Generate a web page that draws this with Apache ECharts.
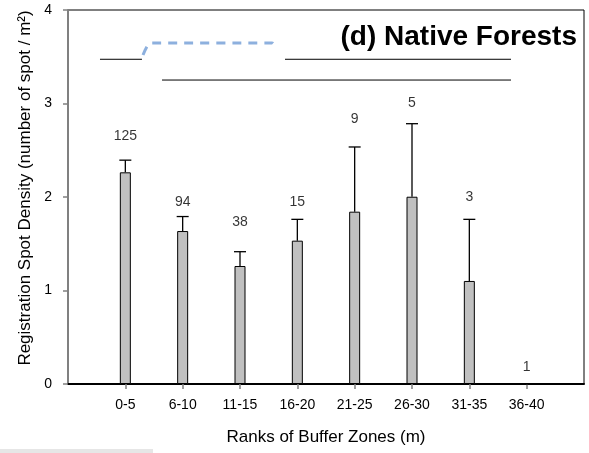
<!DOCTYPE html>
<html>
	<head>
		<meta charset="UTF-8">
		<title>Native Forests</title>
		<style>
			html, body { margin: 0; padding: 0; background: #fff; }
			#chart { width: 589px; height: 453px; }
		</style>
	</head>
	<body>
		<div id="chart"></div>
	</body>
	<script src="https://cdn.jsdelivr.net/npm/echarts@6/dist/echarts.min.js" type="text/javascript" charset="utf-8"></script>
	<script type="text/javascript">
		//数据
		var zones = ['0-5', '6-10', '11-15', '16-20', '21-25', '26-30', '31-35', '36-40'];
		var density = [2.264, 1.636, 1.262, 1.533, 1.843, 2.003, 1.102, 0];
		var stdErr = [0.13, 0.155, 0.153, 0.228, 0.692, 0.781, 0.659, null];
		var counts = [125, 94, 38, 15, 9, 5, 3, 1];
		var countPos = [2.652, 1.945, 1.727, 1.946, 2.834, 3.0, 2.0, 0.182];
		var yTicks = [0, 1, 2, 3, 4];
		//显著性线段 [x1, x2, y]
		var sigLines = [[0.558, 1.29, 3.473], [3.785, 7.727, 3.473], [1.64, 7.727, 3.251]];
		var bluePath = [[1.308, 3.519], [1.395, 3.626], [1.465, 3.647], [3.558, 3.647], [3.628, 3.572]];

		var font = 'Liberation Sans, Arial, sans-serif';
		var axisCats = [''].concat(zones, ['']);

		var chart = echarts.init(document.getElementById('chart'));

		var series = [];
		series.push({
			type: 'bar',
			xAxisIndex: 0,
			barWidth: 11,
			itemStyle: { color: '#c0c0c0', borderColor: '#000', borderWidth: 1 },
			data: density.map(function(v, i) { return [i + 1, v]; }),
			z: 3
		});
		series.push({
			type: 'custom',
			xAxisIndex: 0,
			data: density.map(function(v, i) { return [i + 1, v, stdErr[i]]; })
				.filter(function(d) { return d[2] != null; }),
			renderItem: function(params, api) {
				var base = api.coord([api.value(0), api.value(1)]);
				var top = api.coord([api.value(0), api.value(1) + api.value(2)]);
				var s = { stroke: '#000', lineWidth: 1.3 };
				return {
					type: 'group',
					children: [
						{ type: 'line', shape: { x1: base[0], y1: base[1], x2: top[0], y2: top[1] }, style: s },
						{ type: 'line', shape: { x1: top[0] - 6, y1: top[1], x2: top[0] + 6, y2: top[1] }, style: s }
					]
				};
			},
			z: 4
		});
		series.push({
			type: 'scatter',
			xAxisIndex: 0,
			symbolSize: 0,
			data: counts.map(function(c, i) { return [i + 1, countPos[i], c]; }),
			label: {
				show: true,
				position: 'inside',
				formatter: function(p) { return p.value[2]; },
				fontFamily: font,
				fontSize: 14,
				color: '#000'
			},
			z: 5
		});
		sigLines.forEach(function(l) {
			series.push({
				type: 'line',
				xAxisIndex: 1,
				symbol: 'none',
				lineStyle: { color: '#000', width: 1 },
				data: [[l[0], l[2]], [l[1], l[2]]],
				z: 5
			});
		});
		series.push({
			type: 'line',
			xAxisIndex: 1,
			symbol: 'none',
			smooth: 0.3,
			lineStyle: { color: '#8db0de', width: 3, type: [9, 7] },
			data: bluePath,
			z: 5
		});

		var option = {
			animation: false,
			title: {
				text: '(d) Native Forests',
				right: 12,
				top: 23,
				padding: 0,
				textStyle: { fontFamily: font, fontSize: 28, fontWeight: 'bold', color: '#000' }
			},
			grid: {
				left: 68, right: 5, top: 10, bottom: 69,
				show: true, borderColor: '#000', borderWidth: 1
			},
			xAxis: [{
				type: 'category',
				data: axisCats,
				boundaryGap: false,
				name: 'Ranks of Buffer Zones (m)',
				nameLocation: 'middle',
				nameGap: 45,
				nameTextStyle: { fontFamily: font, fontSize: 17, color: '#000' },
				axisLine: { lineStyle: { color: '#000', width: 2 } },
				axisTick: {
					length: 5,
					interval: function(i) { return i > 0 && i <= zones.length; },
					lineStyle: { color: '#808080', width: 1.5 }
				},
				axisLabel: { interval: 0, margin: 14, fontFamily: font, fontSize: 14, color: '#000' },
				splitLine: { show: false }
			}, {
				type: 'value',
				min: 0, max: 9,
				show: false
			}],
			yAxis: {
				type: 'value',
				min: yTicks[0], max: yTicks[yTicks.length - 1], interval: 1,
				name: 'Registration Spot Density (number of spot / m²)',
				nameLocation: 'middle',
				nameGap: 29,
				nameTextStyle: { fontFamily: font, fontSize: 17, color: '#000', padding: [0, 0, 0, 18] },
				axisLine: { show: true, lineStyle: { color: '#808080', width: 2 } },
				axisTick: { show: true, length: 5, lineStyle: { color: '#808080', width: 1.5 } },
				axisLabel: { margin: 16, fontFamily: font, fontSize: 14, color: '#000' },
				splitLine: { show: false }
			},
			graphic: [{
				type: 'rect',
				shape: { x: 0, y: 449, width: 153, height: 4 },
				style: { fill: '#e6e6e6' }
			}],
			series: series
		};

		chart.setOption(option);
	</script>
</html>
